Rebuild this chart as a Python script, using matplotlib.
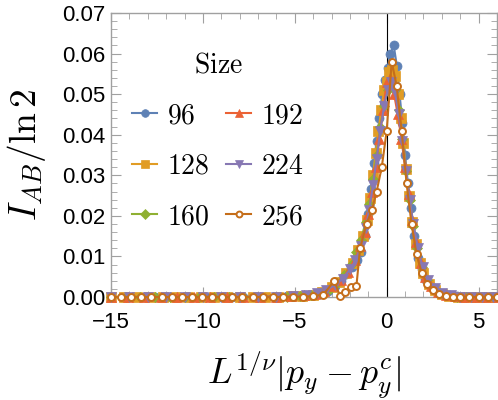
import matplotlib.pyplot as plt
from matplotlib.ticker import MultipleLocator, FormatStrFormatter

plt.rcParams['mathtext.fontset'] = 'cm'
plt.rcParams['font.family'] = ['Liberation Sans', 'DejaVu Sans']

sizes = ['96', '128', '160', '192', '224', '256']

x96 = [-15.0, -14.4, -13.8, -13.2, -12.6, -12.0, -11.4, -10.8, -10.2, -9.6, -9.0, -8.4, -7.8, -7.2,
       -6.6, -6.0, -5.4, -4.8, -4.2, -3.6, -3.2, -2.8, -2.5, -2.2, -1.9, -1.6, -1.4, -1.2, -1.0,
       -0.85, -0.7, -0.55, -0.4, -0.25, -0.1, 0.05, 0.2, 0.38, 0.55, 0.7, 0.85, 1.0, 1.15, 1.3,
       1.5, 1.7, 1.9, 2.1, 2.4, 2.7, 3.0, 3.4, 3.8, 4.2, 4.6, 5.0, 5.4, 5.8]
y96 = [0, 0, 0, 0, 0, 0, 0, 0, 0, 0, 0, 0, 0, 0.0001,
       0.0001, 0.0001, 0.0002, 0.0002, 0.0004, 0.0008, 0.0016, 0.0027, 0.0040, 0.0056, 0.0074,
       0.0092, 0.0112, 0.0150, 0.0205, 0.0265, 0.0330, 0.0385, 0.0440, 0.0500, 0.0535, 0.0565,
       0.0600, 0.0620, 0.0570, 0.0500, 0.0430, 0.0350, 0.0280, 0.0220, 0.0150, 0.0095, 0.0068,
       0.0045, 0.0027, 0.0015, 0.0008, 0.0004, 0.0002, 0.0001, 0, 0, 0, 0]

x128 = [-15.0, -14.3, -13.6, -12.9, -12.2, -11.5, -10.8, -10.1, -9.4, -8.7, -8.0, -7.3, -6.6, -5.9,
        -5.2, -4.6, -4.0, -3.5, -3.0, -2.6, -2.2, -1.85, -1.55, -1.3, -1.1, -0.9, -0.75, -0.6,
        -0.45, -0.3, -0.15, 0.0, 0.15, 0.3, 0.45, 0.6, 0.75, 0.9, 1.05, 1.2, 1.4, 1.6, 1.8, 2.0,
        2.3, 2.6, 3.0, 3.4, 3.9, 4.4, 4.9, 5.4, 5.9]
y128 = [0, 0, 0, 0, 0, 0, 0, 0, 0, 0, 0, 0, 0.0001, 0.0001,
        0.0002, 0.0003, 0.0006, 0.0012, 0.0025, 0.0038, 0.0060, 0.0085, 0.0115, 0.0150, 0.0190,
        0.0245, 0.0300, 0.0355, 0.0410, 0.0460, 0.0510, 0.0530, 0.0555, 0.0560, 0.0545, 0.0500,
        0.0440, 0.0380, 0.0315, 0.0250, 0.0185, 0.0130, 0.0085, 0.0058, 0.0033, 0.0018, 0.0008,
        0.0003, 0.0001, 0, 0, 0, 0]

x160 = [-15.0, -14.2, -13.4, -12.6, -11.8, -11.0, -10.2, -9.4, -8.6, -7.8, -7.0, -6.2, -5.4, -4.7,
        -4.1, -3.6, -3.1, -2.7, -2.3, -1.95, -1.65, -1.4, -1.15, -0.95, -0.75, -0.55, -0.35,
        -0.15, 0.05, 0.25, 0.45, 0.65, 0.85, 1.05, 1.25, 1.45, 1.65, 1.9, 2.2, 2.5, 2.9, 3.3,
        3.8, 4.3, 4.8, 5.3, 5.8]
y160 = [0, 0, 0, 0, 0, 0, 0, 0, 0, 0, 0.0001, 0.0001, 0.0001, 0.0002,
        0.0005, 0.0010, 0.0020, 0.0035, 0.0055, 0.0080, 0.0110, 0.0140, 0.0185, 0.0230, 0.0290,
        0.0350, 0.0420, 0.0470, 0.0510, 0.0530, 0.0510, 0.0460, 0.0390, 0.0310, 0.0240, 0.0175,
        0.0120, 0.0075, 0.0042, 0.0022, 0.0010, 0.0004, 0.0001, 0, 0, 0, 0]

x192 = [-15.0, -14.1, -13.2, -12.3, -11.4, -10.5, -9.6, -8.7, -7.8, -6.9, -6.0, -5.2, -4.5, -3.9,
        -3.4, -2.9, -2.5, -2.1, -1.75, -1.45, -1.2, -1.0, -0.8, -0.6, -0.4, -0.2, 0.0, 0.2, 0.4,
        0.6, 0.8, 1.0, 1.2, 1.4, 1.6, 1.85, 2.1, 2.4, 2.8, 3.2, 3.7, 4.2, 4.8, 5.4, 6.0]
y192 = [0, 0, 0, 0, 0, 0, 0, 0, 0, 0.0001, 0.0001, 0.0002, 0.0004, 0.0008,
        0.0015, 0.0028, 0.0042, 0.0062, 0.0090, 0.0125, 0.0160, 0.0205, 0.0260, 0.0320, 0.0390,
        0.0460, 0.0530, 0.0540, 0.0500, 0.0450, 0.0390, 0.0320, 0.0255, 0.0190, 0.0135, 0.0085,
        0.0050, 0.0028, 0.0013, 0.0005, 0.0002, 0, 0, 0, 0]

x224 = [-15.0, -14.0, -13.0, -12.0, -11.0, -10.0, -9.0, -8.0, -7.0, -6.0, -5.1, -4.4, -3.8, -3.3,
        -2.8, -2.4, -2.0, -1.7, -1.4, -1.15, -0.95, -0.75, -0.55, -0.35, -0.15, 0.05, 0.25, 0.45,
        0.65, 0.85, 1.05, 1.25, 1.45, 1.7, 1.95, 2.25, 2.6, 3.0, 3.5, 4.0, 4.6, 5.2, 5.8]
y224 = [0, 0, 0, 0, 0, 0, 0, 0, 0.0001, 0.0001, 0.0002, 0.0004, 0.0009, 0.0017,
        0.0030, 0.0045, 0.0068, 0.0090, 0.0125, 0.0170, 0.0215, 0.0275, 0.0340, 0.0410, 0.0470,
        0.0510, 0.0530, 0.0505, 0.0450, 0.0385, 0.0310, 0.0240, 0.0180, 0.0120, 0.0075, 0.0042,
        0.0022, 0.0010, 0.0004, 0.0001, 0, 0, 0]

x256 = [-15.0, -14.45, -13.9, -13.35, -12.8, -12.25, -11.7, -11.15, -10.6, -10.05, -9.5, -8.95,
        -8.4, -7.85, -7.3, -6.75, -6.2, -5.65, -5.1, -4.55, -4.0, -3.45, -2.85, -2.55, -2.28,
        -1.95, -1.65, -1.45, -1.1, -0.8, -0.55, -0.27, 0.0, 0.27, 0.54, 0.81, 1.08, 1.35, 1.62,
        1.9, 2.2, 2.5, 2.85, 3.2, 3.6, 4.0, 4.5, 5.0, 5.5, 6.0]
y256 = [0, 0, 0, 0, 0, 0, 0, 0, 0, 0, 0, 0,
        0, 0, 0, 0, 0, 0, 0.0001, 0.0001, 0.0002, 0.0006, 0.0040, 0.0003, 0.0012,
        0.0025, 0.0027, 0.0120, 0.0180, 0.0215, 0.0260, 0.0320, 0.0410, 0.0580, 0.0520, 0.0410,
        0.0280, 0.0180, 0.0105, 0.0060, 0.0032, 0.0018, 0.0008, 0.0003, 0.0001, 0, 0, 0, 0, 0]

xs = [x96, x128, x160, x192, x224, x256]
ys = [y96, y128, y160, y192, y224, y256]
colors = ['#5E81B5', '#E19C24', '#8FB032', '#EB6235', '#8778B3', '#C56E1A']
markers = ['o', 's', 'D', '^', 'v', 'o']
msizes = [6.5, 6.5, 5.5, 7.5, 7.5, 5.0]

fig = plt.figure(figsize=(4.98, 4.00), dpi=100)
ax = fig.add_axes([0.223, 0.2575, 0.775, 0.71])

for i in range(6):
    face = 'white' if i == 5 else colors[i]
    ax.plot(xs[i], ys[i], color=colors[i], marker=markers[i], ms=msizes[i], lw=1.5,
            mfc=face, mec=colors[i], mew=1.4 if i == 5 else 0.5, label='$' + sizes[i] + '$',
            clip_on=False, zorder=3 + i)

ax.axvline(0, color='black', lw=0.8, zorder=2)

ax.set_xlim(-15, 6)
ax.set_ylim(0, 0.07)
ax.xaxis.set_minor_locator(MultipleLocator(1))
ax.yaxis.set_major_locator(MultipleLocator(0.01))
ax.yaxis.set_minor_locator(MultipleLocator(0.002))
ax.yaxis.set_major_formatter(FormatStrFormatter('%.2f'))
ax.set_xticks([-15, -10, -5, 0, 5])
ax.set_xticklabels(['\u221215', '\u221210', '\u22125', '0', '5'])

for s in ax.spines.values():
    s.set_color('#a0a0a0')
    s.set_linewidth(1.0)
ax.tick_params(which='both', direction='in', color='#a0a0a0', top=True, right=True,
               labelsize=16)
ax.tick_params(which='major', length=7)
ax.tick_params(which='minor', length=4)
ax.tick_params(axis='x', which='major', pad=11)
ax.tick_params(axis='y', which='major', pad=4)

ax.set_xlabel(r'$L^{1/\nu}|p_y - p_y^c|$', fontsize=26, labelpad=12)
ax.set_ylabel(r'$I_{AB}/\ln 2$', fontsize=27, labelpad=10)

leg = ax.legend(loc='upper left', bbox_to_anchor=(0.055, 0.86), ncol=2, frameon=False,
                title=r'$\mathrm{Size}$', fontsize=20, title_fontsize=20, handlelength=0.9,
                handletextpad=0.35, columnspacing=0.6, labelspacing=0.88, borderpad=0,
                borderaxespad=0, markerscale=0.85)

fig.savefig('out.png', dpi=100)
